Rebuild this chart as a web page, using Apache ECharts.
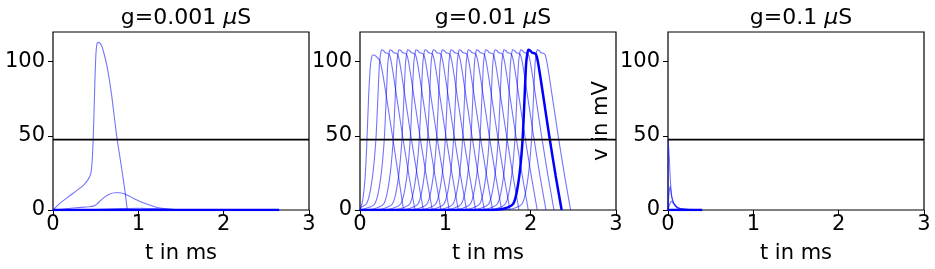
<!DOCTYPE html>
<html>
<head>
<meta charset="utf-8">
<script src="https://cdn.jsdelivr.net/npm/echarts@6/dist/echarts.min.js"></script>
<style>
  html, body { margin: 0; padding: 0; background: #fff; }
  #main { width: 935px; height: 269px; }
</style>
</head>
<body>
<div id="main"></div>
<script>
// panel labels and ticks
var gValues = ['0.001', '0.01', '0.1'];
var xTicks = [0, 1, 2, 3];
var yTicks = [0, 50, 100];
var threshold = 47.5;

// g=0.001 : decaying response
var weakA = [[0, 0], [0.08, 4.5], [0.16, 8], [0.24, 11.5], [0.316, 14.7], [0.37, 17.5], [0.41, 20.5], [0.44, 24], [0.455, 30], [0.467, 42], [0.478, 60], [0.49, 85], [0.502, 104], [0.515, 112], [0.531, 113], [0.55, 112.5], [0.575, 110], [0.6, 105], [0.629, 98], [0.66, 88], [0.688, 77], [0.72, 62], [0.746, 50], [0.775, 39], [0.805, 28], [0.84, 14], [0.871, 0]];
var weakB = [[0, 0], [0.238, 1.3], [0.42, 2.2], [0.473, 2.6], [0.51, 3.8], [0.55, 6], [0.6, 8.5], [0.66, 10.6], [0.727, 11.6], [0.78, 11.6], [0.824, 11.1], [0.88, 9.8], [0.941, 8], [1.02, 5.8], [1.098, 4], [1.18, 2.4], [1.254, 1.3], [1.35, 0.6], [1.49, 0.2], [2.0, 0], [2.65, 0]];
var weakC = [[0, 0], [0.5, 0.3], [0.8, 0.9], [1.0, 1.2], [1.2, 0.9], [1.5, 0.3], [2.0, 0.05], [2.65, 0]];
var weakRest = [[0, 0], [2.65, 0]];

// g=0.01 : propagating spikes
var firstSpike = [[0, 0], [0.03, 6], [0.06, 22], [0.08, 45], [0.1, 75], [0.12, 96], [0.135, 102.5], [0.15, 104.5], [0.17, 104.3], [0.19, 103.5], [0.23, 101], [0.26, 94], [0.3, 80], [0.38, 50], [0.44, 27], [0.51, 0]];
// shape of one spike, time relative to its peak
var spikeShape = [[-0.45, 0], [-0.32, 0.5], [-0.24, 1.8], [-0.18, 4], [-0.14, 11], [-0.1, 26], [-0.067, 48], [-0.045, 75], [-0.027, 98], [-0.012, 105.5], [0, 108], [0.02, 107.5], [0.045, 106], [0.07, 105.7], [0.09, 104.8], [0.11, 100.5], [0.14, 90], [0.2, 67], [0.25, 48], [0.32, 23], [0.39, 0]];
var spikePeaks = [0.254, 0.352, 0.457, 0.559, 0.656, 0.762, 0.859, 0.965, 1.067, 1.164, 1.27, 1.367, 1.473, 1.582, 1.687, 1.789, 1.883, 1.973, 2.078];
var boldPeak = 1.973;

// g=0.1 : no spike
var strongA = [[0, 0], [0.003, 47.5], [0.015, 35], [0.03, 18], [0.047, 8], [0.086, 3], [0.14, 1], [0.25, 0.3], [0.4, 0.1]];
var strongB = [[0, 0], [0.01, 10], [0.025, 16], [0.04, 10], [0.07, 4], [0.12, 1], [0.4, 0.2]];
var strongC = [[0, 0], [0.02, 4], [0.04, 6], [0.07, 4], [0.12, 1.5], [0.2, 0.5], [0.4, 0.1]];
var strongRest = [[0, 0], [0.4, 0]];

var font = 'DejaVu Sans';
var thin = 'rgba(0,0,255,0.55)';
var lefts = [53, 360, 668];
var chart = echarts.init(document.getElementById('main'));

function shifted(tp) {
  var pts = [[0, 0]];
  spikeShape.forEach(function (p) {
    if (tp + p[0] > 0) pts.push([tp + p[0], p[1]]);
  });
  return pts;
}

function line(idx, data, bold) {
  return {
    type: 'line', xAxisIndex: idx, yAxisIndex: idx, data: data,
    showSymbol: false, smooth: 0.2, silent: true,
    lineStyle: { color: bold ? '#0000ff' : thin, width: bold ? 2.5 : 1.1 },
    z: bold ? 3 : 2
  };
}

var series = [];
series.push(line(0, weakA), line(0, weakB), line(0, weakC), line(0, weakRest, true));
series.push(line(1, firstSpike));
spikePeaks.forEach(function (tp) {
  series.push(line(1, shifted(tp), tp === boldPeak));
});
series.push(line(2, strongA), line(2, strongB), line(2, strongC), line(2, strongRest, true));
[0, 1, 2].forEach(function (i) {
  series.push({
    type: 'line', xAxisIndex: i, yAxisIndex: i, showSymbol: false, silent: true,
    data: [[0, threshold], [3, threshold]],
    lineStyle: { color: '#000', width: 1.8 }, z: 5
  });
});

var grids = [], xAxes = [], yAxes = [], titles = [];
lefts.forEach(function (l, i) {
  grids.push({ left: l, top: 32, width: 256, height: 180, show: true, borderColor: '#000', borderWidth: 1.2 });
  titles.push({
    text: 'g=' + gValues[i] + ' {m|μ}S', left: l + 128, top: 2, textAlign: 'center',
    textStyle: { fontFamily: font, fontSize: 22, fontWeight: 'normal', color: '#000',
      rich: { m: { fontFamily: font, fontSize: 22, fontStyle: 'italic', color: '#000' } } }
  });
  xAxes.push({
    type: 'value', gridIndex: i, min: 0, max: 3, interval: 1,
    axisLine: { show: false }, splitLine: { show: false },
    axisTick: { length: 5, lineStyle: { color: '#000', width: 1 } },
    axisLabel: { fontFamily: font, fontSize: 21, color: '#000', margin: 4 },
    name: 't in ms', nameLocation: 'middle', nameGap: 33,
    nameTextStyle: { fontFamily: font, fontSize: 21, color: '#000' }
  });
  yAxes.push({
    type: 'value', gridIndex: i, min: 0, max: 120,
    axisLine: { show: false }, splitLine: { show: false },
    axisTick: { length: 5, customValues: yTicks, lineStyle: { color: '#000', width: 1 } },
    axisLabel: { fontFamily: font, fontSize: 21, color: '#000', margin: 8, customValues: yTicks },
    name: i === 2 ? 'v in mV' : '', nameLocation: 'middle', nameRotate: 90, nameGap: 56,
    nameTextStyle: { fontFamily: font, fontSize: 21, color: '#000' }
  });
});

chart.setOption({
  animation: false,
  backgroundColor: '#fff',
  title: titles,
  grid: grids,
  xAxis: xAxes,
  yAxis: yAxes,
  series: series
});
</script>
</body>
</html>
